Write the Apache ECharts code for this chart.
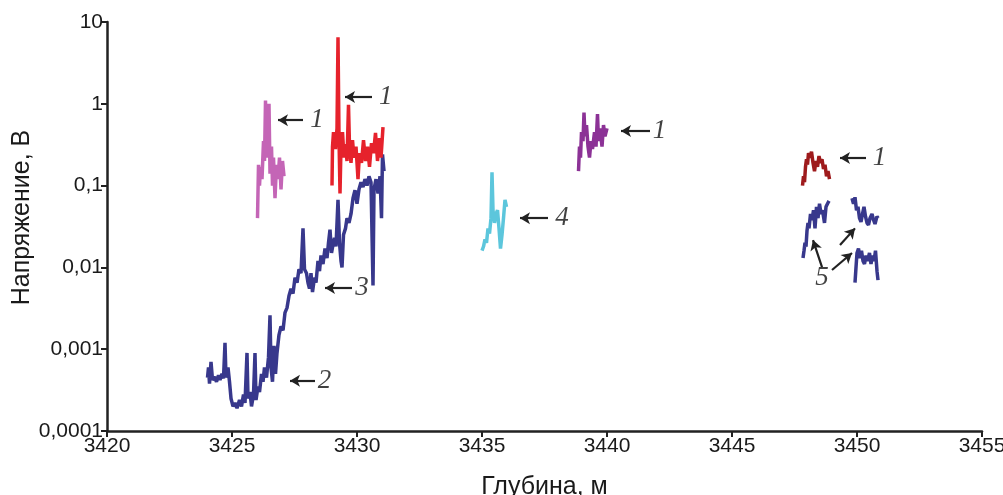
<!DOCTYPE html>
<html>
<head>
<meta charset="utf-8">
<script src="https://cdn.jsdelivr.net/npm/echarts@6/dist/echarts.min.js"></script>
<style>
  html, body { margin: 0; padding: 0; background: #fff; }
  #chart { width: 1003px; height: 495px; }
</style>
</head>
<body>
<div id="chart"></div>
<script>
// depth, m / voltage, V
const blue23 = [[3424.02,0.00045],[3424.06,0.0006],[3424.1,0.00038],[3424.16,0.0007],[3424.22,0.00042],[3424.3,0.00046],[3424.38,0.0004],[3424.46,0.00048],[3424.52,0.00042],[3424.6,0.0005],[3424.66,0.00044],[3424.72,0.0012],[3424.76,0.00045],[3424.84,0.0006],[3424.9,0.0004],[3424.96,0.00025],[3425.04,0.0002],[3425.12,0.00022],[3425.2,0.00019],[3425.3,0.00024],[3425.38,0.0002],[3425.46,0.00028],[3425.52,0.00022],[3425.6,0.0009],[3425.64,0.00025],[3425.72,0.0003],[3425.78,0.0002],[3425.86,0.00028],[3425.92,0.0009],[3425.96,0.00024],[3426.04,0.00035],[3426.1,0.0003],[3426.18,0.0005],[3426.24,0.0004],[3426.3,0.0006],[3426.38,0.00045],[3426.46,0.0008],[3426.52,0.0026],[3426.56,0.0006],[3426.62,0.0004],[3426.68,0.0011],[3426.74,0.0005],[3426.8,0.0009],[3426.88,0.0015],[3426.96,0.0019],[3427.04,0.0017],[3427.12,0.0028],[3427.2,0.0032],[3427.28,0.0045],[3427.36,0.0055],[3427.44,0.0048],[3427.52,0.0075],[3427.6,0.0065],[3427.68,0.0095],[3427.76,0.0085],[3427.84,0.03],[3427.9,0.0095],[3427.98,0.0085],[3428.04,0.0065],[3428.1,0.0055],[3428.16,0.0085],[3428.22,0.005],[3428.3,0.0075],[3428.36,0.0065],[3428.44,0.012],[3428.5,0.009],[3428.56,0.014],[3428.64,0.011],[3428.72,0.017],[3428.8,0.013],[3428.86,0.02],[3428.92,0.029],[3428.98,0.015],[3429.04,0.019],[3429.1,0.023],[3429.16,0.018],[3429.24,0.067],[3429.3,0.02],[3429.36,0.012],[3429.4,0.01],[3429.46,0.025],[3429.54,0.03],[3429.6,0.04],[3429.68,0.035],[3429.76,0.045],[3429.84,0.07],[3429.92,0.088],[3430.0,0.06],[3430.08,0.09],[3430.16,0.11],[3430.24,0.096],[3430.32,0.12],[3430.4,0.1],[3430.48,0.13],[3430.56,0.11],[3430.64,0.006],[3430.68,0.09],[3430.76,0.12],[3430.84,0.08],[3430.92,0.13],[3430.98,0.04],[3431.02,0.24],[3431.08,0.15]]
const red1 = [[3429.0,0.1],[3429.02,0.3],[3429.06,0.45],[3429.1,0.35],[3429.14,0.28],[3429.2,0.5],[3429.24,6.5],[3429.28,0.4],[3429.32,0.08],[3429.36,0.3],[3429.42,0.45],[3429.48,0.22],[3429.54,0.32],[3429.6,0.2],[3429.66,0.97],[3429.7,0.3],[3429.76,0.19],[3429.82,0.36],[3429.88,0.22],[3429.96,0.3],[3430.04,0.12],[3430.1,0.25],[3430.18,0.19],[3430.26,0.36],[3430.34,0.2],[3430.42,0.3],[3430.5,0.17],[3430.58,0.33],[3430.66,0.25],[3430.74,0.44],[3430.82,0.2],[3430.9,0.38],[3430.96,0.22],[3431.04,0.52]]
const pink1 = [[3426.02,0.04],[3426.06,0.18],[3426.1,0.1],[3426.14,0.17],[3426.2,0.12],[3426.26,0.35],[3426.3,0.2],[3426.34,1.1],[3426.38,0.22],[3426.44,0.4],[3426.48,1.0],[3426.52,0.14],[3426.58,0.3],[3426.62,0.1],[3426.66,0.22],[3426.72,0.07],[3426.78,0.18],[3426.84,0.12],[3426.9,0.22],[3426.96,0.09],[3427.02,0.2],[3427.08,0.13]]
const purple1 = [[3438.86,0.15],[3438.9,0.3],[3438.94,0.22],[3438.98,0.45],[3439.04,0.35],[3439.08,0.78],[3439.12,0.4],[3439.18,0.55],[3439.24,0.3],[3439.3,0.22],[3439.36,0.35],[3439.42,0.28],[3439.5,0.45],[3439.56,0.3],[3439.62,0.75],[3439.66,0.35],[3439.72,0.5],[3439.8,0.3],[3439.86,0.55],[3439.92,0.4],[3440.0,0.5]]
const cyan4 = [[3435.0,0.016],[3435.06,0.018],[3435.12,0.022],[3435.18,0.02],[3435.24,0.03],[3435.3,0.026],[3435.36,0.04],[3435.4,0.145],[3435.44,0.05],[3435.5,0.035],[3435.56,0.045],[3435.62,0.05],[3435.68,0.03],[3435.74,0.017],[3435.8,0.025],[3435.86,0.04],[3435.92,0.067],[3435.98,0.055]]
const darkred1 = [[3447.82,0.1],[3447.86,0.13],[3447.9,0.11],[3447.94,0.17],[3447.98,0.21],[3448.02,0.18],[3448.06,0.25],[3448.12,0.22],[3448.18,0.26],[3448.24,0.19],[3448.3,0.15],[3448.36,0.2],[3448.42,0.17],[3448.48,0.23],[3448.54,0.19],[3448.6,0.21],[3448.66,0.16],[3448.72,0.18],[3448.78,0.13],[3448.84,0.15],[3448.9,0.12]]
const blue5a = [[3447.84,0.013],[3447.88,0.016],[3447.92,0.02],[3447.96,0.018],[3448.0,0.028],[3448.04,0.035],[3448.08,0.03],[3448.14,0.045],[3448.2,0.038],[3448.26,0.05],[3448.32,0.03],[3448.38,0.055],[3448.44,0.04],[3448.5,0.06],[3448.56,0.045],[3448.62,0.05],[3448.7,0.035],[3448.76,0.055],[3448.82,0.06],[3448.88,0.065]]
const blue5b = [[3449.8,0.07],[3449.86,0.06],[3449.92,0.072],[3449.98,0.05],[3450.04,0.055],[3450.1,0.04],[3450.16,0.036],[3450.22,0.045],[3450.28,0.055],[3450.34,0.042],[3450.4,0.035],[3450.46,0.033],[3450.52,0.04],[3450.6,0.045],[3450.66,0.038],[3450.72,0.034],[3450.8,0.042],[3450.84,0.04]]
const blue5c = [[3449.92,0.0065],[3449.96,0.01],[3450.0,0.015],[3450.06,0.017],[3450.12,0.013],[3450.18,0.016],[3450.24,0.012],[3450.3,0.011],[3450.36,0.014],[3450.42,0.012],[3450.5,0.015],[3450.56,0.011],[3450.62,0.014],[3450.68,0.012],[3450.74,0.016],[3450.8,0.009],[3450.84,0.007]]

// arrows: [tail, tip] in data coords; labels: [depth, value, text]
const arrows = [
  [[3427.84, 0.63], [3426.84, 0.63]],
  [[3430.6, 1.21], [3429.52, 1.21]],
  [[3441.72, 0.465], [3440.56, 0.465]],
  [[3437.64, 0.040], [3436.52, 0.040]],
  [[3450.36, 0.217], [3449.32, 0.217]],
  [[3428.32, 0.00041], [3427.32, 0.00041]],
  [[3429.8, 0.0056], [3428.72, 0.0056]],
  [[3448.6, 0.0101], [3448.24, 0.0216]],
  [[3449.32, 0.0188], [3449.92, 0.030]],
  [[3449.0, 0.0093], [3449.8, 0.015]]
]
const labels = [
  [3428.4, 0.63, '1'],
  [3431.15, 1.21, '1'],
  [3442.1, 0.465, '1'],
  [3438.2, 0.040, '4'],
  [3450.9, 0.217, '1'],
  [3428.7, 0.00041, '2'],
  [3430.2, 0.0056, '3'],
  [3448.6, 0.0074, '5']
]
const yTickLabels = { '-4': '0,0001', '-3': '0,001', '-2': '0,01', '-1': '0,1', '0': '1', '1': '10' }

const lineSeries = (data, color) => ({
  type: 'line',
  data: data,
  showSymbol: false,
  symbol: 'none',
  lineStyle: { color: color, width: 3.5 },
  silent: true
})

const option = {
  animation: false,
  grid: { left: 107, right: 21, top: 22, bottom: 64, outerBoundsMode: 'none', containLabel: false },
  xAxis: {
    type: 'value',
    min: 3420,
    max: 3455,
    interval: 5,
    name: 'Глубина, м',
    nameLocation: 'middle',
    nameGap: 44,
    nameMoveOverlap: false,
    nameTextStyle: { fontFamily: 'Liberation Sans', fontSize: 25, color: '#1a1a1a' },
    axisLine: { onZero: false, lineStyle: { color: '#222', width: 2.5 } },
    axisTick: { show: true, length: 6, lineStyle: { color: '#222', width: 2 } },
    axisLabel: {
      fontFamily: 'Liberation Sans', fontSize: 21, color: '#1a1a1a', margin: 5,
      formatter: v => String(v)
    },
    splitLine: { show: false }
  },
  yAxis: {
    type: 'log',
    logBase: 10,
    min: 0.0001,
    max: 10,
    name: 'Напряжение, В',
    nameLocation: 'middle',
    nameGap: 72,
    nameMoveOverlap: false,
    nameTextStyle: { fontFamily: 'Liberation Sans', fontSize: 25, color: '#1a1a1a', padding: [0, 0, 0, 18] },
    axisLine: { show: true, lineStyle: { color: '#222', width: 2.5 } },
    axisTick: { show: true, length: 6, lineStyle: { color: '#222', width: 2 } },
    axisLabel: {
      fontFamily: 'Liberation Sans', fontSize: 21, color: '#1a1a1a', margin: 4,
      formatter: v => yTickLabels[String(Math.round(Math.log10(v)))] || ''
    },
    splitLine: { show: false }
  },
  series: [
    lineSeries(pink1, '#c465b6'),
    lineSeries(blue23, '#38388c'),
    lineSeries(red1, '#e6222c'),
    lineSeries(cyan4, '#5cc6dc'),
    lineSeries(purple1, '#8c3296'),
    lineSeries(darkred1, '#9e1a1c'),
    lineSeries(blue5a, '#38388c'),
    lineSeries(blue5b, '#38388c'),
    lineSeries(blue5c, '#38388c'),
    {
      type: 'scatter',
      data: labels,
      symbolSize: 1,
      itemStyle: { color: 'rgba(0,0,0,0)' },
      silent: true,
      label: {
        show: true,
        position: 'inside',
        formatter: p => p.data[2],
        fontFamily: 'Liberation Serif',
        fontStyle: 'italic',
        fontSize: 27,
        color: '#111'
      },
      markLine: {
        silent: true,
        symbol: ['none', 'arrow'],
        symbolSize: [9, 10],
        label: { show: false },
        lineStyle: { color: '#222', width: 2.2, type: 'solid' },
        data: arrows.map(a => [{ coord: a[0] }, { coord: a[1] }])
      }
    }
  ]
}

const chart = echarts.init(document.getElementById('chart'))
chart.setOption(option)
</script>
</body>
</html>
